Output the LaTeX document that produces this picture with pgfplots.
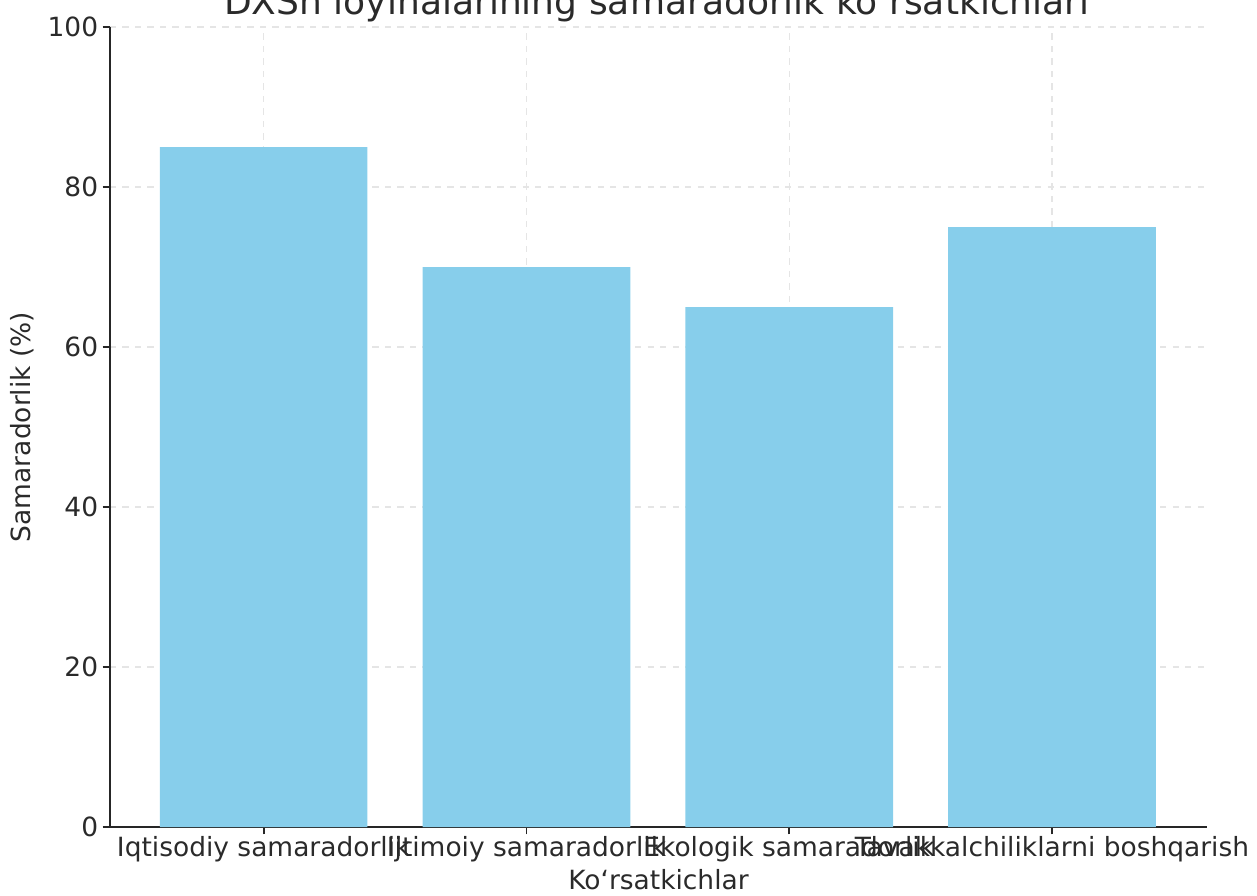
\documentclass[border=0pt]{standalone}
\usepackage{fontspec}
\setmainfont{DejaVu Sans}
\usepackage{pgfplots}
\pgfplotsset{compat=1.18}
\definecolor{skyblue}{HTML}{87CEEB}
\definecolor{txt}{HTML}{2A2A2A}
\begin{document}
\begin{tikzpicture}
\useasboundingbox (-52.8pt,-32.64pt) rectangle (550.56pt,396.96pt);
\clip (-52.8pt,-32.64pt) rectangle (550.56pt,396.96pt);
\begin{axis}[
  at={(0pt,0pt)}, anchor=south west,
  scale only axis, width=526.56pt, height=384pt,
  xmin=-0.585, xmax=3.59, ymin=0, ymax=100,
  ybar, bar width=0.79,
  xtick={0,1,2,3},
  xticklabels={Iqtisodiy samaradorlik, Ijtimoiy samaradorlik, Ekologik samaradorlik, Tavakkalchiliklarni boshqarish},
  ytick={0,20,40,60,80,100},
  axis x line*=bottom, axis y line*=left,
  axis line style={line width=0.8pt, black!85},
  tick align=outside, major tick length=3.5pt,
  tick style={line width=0.8pt, black!85},
  grid=major, grid style={dashed, black!10, line width=0.6pt},
  axis on top=false,
  tick label style={font=\fontsize{12.7}{15}\selectfont, text=txt},
  xticklabel style={inner sep=1pt},
  yticklabel style={inner sep=2pt},
  /pgf/number format/assume math mode=true,
  every axis y label/.style={at={(axis description cs:-0.0802,0.5)}, rotate=90, anchor=center, font=\fontsize{12.7}{15}\selectfont, text=txt},
  every axis x label/.style={at={(axis description cs:0.5,-0.0663)}, anchor=center, font=\fontsize{12.7}{15}\selectfont, text=txt},
  every axis title/.style={at={(axis description cs:0.4985,1)}, anchor=base, yshift=5.8pt, inner sep=0pt, font=\fontsize{17.3}{20}\selectfont, text=txt},
  title={DXSh loyihalarining samaradorlik ko‘rsatkichlari},
  xlabel={Ko‘rsatkichlar},
  ylabel={Samaradorlik (\%)},
]
\addplot[fill=skyblue, draw=none] coordinates {(0,85) (1,70) (2,65) (3,75)};
\end{axis}
\end{tikzpicture}
\end{document}
